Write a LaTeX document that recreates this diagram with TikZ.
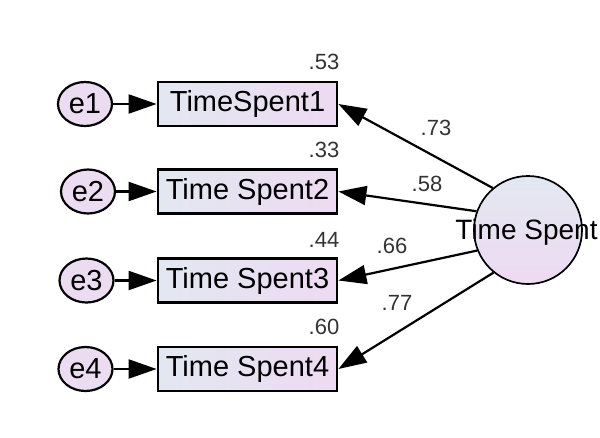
\documentclass[tikz,border=0pt]{standalone}
\usepackage{fontspec}
\setmainfont{Liberation Sans}
\usetikzlibrary{arrows.meta,shapes.geometric}
\definecolor{fillA}{HTML}{E2E8F1}
\definecolor{fillB}{HTML}{EEDAF2}
\definecolor{errfill}{HTML}{ECDCF1}
\definecolor{numcol}{HTML}{333333}
\tikzset{
  obsbox/.style={draw=black, line width=2.8pt, minimum width=179pt, minimum height=44pt,
    inner sep=0pt, left color=fillA, right color=fillB,
    font=\fontsize{29}{32}\selectfont},
  errnode/.style={draw=black, line width=2.2pt, ellipse, minimum width=54pt, minimum height=44pt,
    inner sep=0pt, fill=errfill, font=\fontsize{29}{32}\selectfont},
  latent/.style={draw=black, line width=1.7pt, circle, minimum size=108pt, inner sep=0pt,
    top color=fillA, bottom color=fillB},
  path/.style={line width=2.2pt, -{Triangle[length=28pt,width=19pt]}},
  coef/.style={text=numcol, font=\fontsize{22}{24}\selectfont, inner sep=0pt}
}
\begin{document}
\begin{tikzpicture}[x=1pt,y=-1pt]
\useasboundingbox (0,0) rectangle (600,437);

% observed indicators
\node[obsbox] (b1) at (247.5,104) {TimeSpent1};
\node[obsbox] (b2) at (247.5,191.5) {Time Spent2};
\node[obsbox] (b3) at (247.5,280.5) {Time Spent3};
\node[obsbox] (b4) at (247.5,369) {Time Spent4};

% error terms
\node[errnode] (e1) at (85,104) {e1};
\node[errnode] (e2) at (88,191.5) {e2};
\node[errnode] (e3) at (86.5,280.5) {e3};
\node[errnode] (e4) at (85.5,369) {e4};

% latent factor
\node[latent] (L) at (528,230) {};
\node[font=\fontsize{28}{30}\selectfont, inner sep=0pt] (Lt) at (526.5,232) {Time Spent};

% error paths
\foreach \i in {1,...,4} {
  \draw[path] (e\i) -- (b\i);
}

% loadings
\draw[path] (L.130) -- (b1.east);
\draw[path] (L.160) -- (b2.east);
\draw[path] (L.202) -- (b3.east);
\draw[path] (L.231) -- (b4.east);

% squared multiple correlations
\node[coef] (r1) at (324,62) {.53};
\node[coef] (r2) at (324,150) {.33};
\node[coef] (r3) at (324,240) {.44};
\node[coef] (r4) at (324,327) {.60};

% standardized loadings
\node[coef] (c1) at (436,128) {.73};
\node[coef] (c2) at (427,184) {.58};
\node[coef] (c3) at (392,246) {.66};
\node[coef] (c4) at (397,303) {.77};
\end{tikzpicture}
\end{document}
